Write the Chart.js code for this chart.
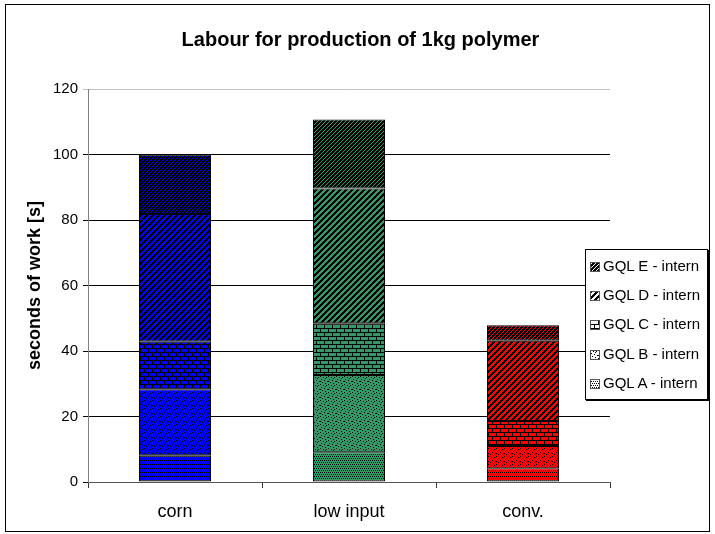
<!DOCTYPE html>
<html>
<head>
<meta charset="utf-8">
<script src="https://cdn.jsdelivr.net/npm/chart.js@4.4.1/dist/chart.umd.min.js"></script>
<style>
  html, body { margin: 0; padding: 0; background: #fff; }
  #wrap { position: relative; width: 715px; height: 534px; }
  #frame { position: absolute; left: 5px; top: 4px; width: 703px; height: 526px; border: 1px solid #000; pointer-events: none; }
  #legend {
    position: absolute; left: 585px; top: 249px; width: 121px; height: 149px;
    border: 1px solid #000; box-shadow: 1px 1px 0 #000; background: #fff;
    font-family: "Liberation Sans", Arial, sans-serif; font-size: 15px; color: #000;
  }
  #legend .item { position: absolute; left: 4px; height: 17px; line-height: 17px; white-space: nowrap; }
  #legend canvas { vertical-align: -1px; margin-right: 3px; }
</style>
</head>
<body>
<div id="wrap">
  <canvas id="chart" width="715" height="534"></canvas>
  <div id="frame"></div>
  <div id="legend"></div>
</div>
<script>
(function () {
  'use strict';

  // ---- data ----
  const categories = ['corn', 'low input', 'conv.'];
  const barColors  = ['#0000ff', '#339966', '#ff0000'];
  const seriesNames = ['GQL A - intern', 'GQL B - intern', 'GQL C - intern', 'GQL D - intern', 'GQL E - intern'];
  const gqlA = [8.2, 9.1, 4.2];
  const gqlB = [20.1, 23.6, 6.8];
  const gqlC = [14.5, 15.8, 7.6];
  const gqlD = [39.0, 41.1, 24.5];
  const gqlE = [18.2, 21.1, 4.8];
  const yTicks = [0, 20, 40, 60, 80, 100, 120];

  const FONT = '"Liberation Sans", Arial, sans-serif';

  // hatch tiles, 'X' = black pixel
  const TILES = {
    A: ['X.X.', '....', '.X.X', '....'],
    B: ['X.......', '...X..X.', '.....X..', '.X......', '....X...', 'X......X', '..X.....', '.....X..'],
    C: ['XXXXXXXX', 'X.......', 'X.......', 'X.......', 'XXXXXXXX', '....X...', '....X...', '....X...'],
    D: ['XXX...', 'XX...X', 'X...XX', '...XXX', '..XXX.', '.XXX..'],
    E: ['XX.X', 'X.XX', '.XXX', 'XXX.'],
  };
  const tileKeys = ['A', 'B', 'C', 'D', 'E'];

  function makeTile(key, bg) {
    const rows = TILES[key];
    const n = rows.length;
    const c = document.createElement('canvas');
    c.width = n; c.height = n;
    const g = c.getContext('2d');
    g.fillStyle = bg; g.fillRect(0, 0, n, n);
    g.fillStyle = '#000';
    rows.forEach((row, y) => {
      for (let x = 0; x < n; x++) if (row[x] === 'X') g.fillRect(x, y, 1, 1);
    });
    return c;
  }

  const ctx = document.getElementById('chart').getContext('2d');
  const patterns = (key) => barColors.map(col => ctx.createPattern(makeTile(key, col), 'repeat'));

  const seriesValues = [gqlA, gqlB, gqlC, gqlD, gqlE];
  const datasets = seriesValues.map((vals, i) => ({
    label: seriesNames[i],
    data: vals,
    backgroundColor: patterns(tileKeys[i]),
    borderColor: '#000',
    borderWidth: 1,
    borderSkipped: false,
    categoryPercentage: 1,
    barPercentage: 0.414,
  }));

  new Chart(ctx, {
    type: 'bar',
    data: { labels: categories, datasets },
    options: {
      responsive: false,
      animation: false,
      events: [],
      layout: { padding: { left: 6, right: 0, top: 5, bottom: 5 } },
      plugins: {
        legend: { display: false },
        tooltip: { enabled: false },
        title: {
          display: true,
          text: 'Labour for production of 1kg polymer',
          color: '#000',
          font: { family: FONT, size: 20, weight: 'bold' },
          padding: { top: 23, bottom: 37 },
        },
      },
      scales: {
        x: {
          stacked: true,
          grid: { display: true, drawOnChartArea: false, drawTicks: true, tickLength: 6, color: '#333', offset: true },
          border: { color: '#555' },
          ticks: { color: '#000', padding: 13, font: { family: FONT, size: 18 } },
          afterFit: (s) => { s.height = 47; },
        },
        y: {
          stacked: true,
          min: 0, max: 120,
          afterBuildTicks: (s) => { s.ticks = yTicks.map(v => ({ value: v })); },
          grid: {
            color: (c) => (c.tick && c.tick.value === 120 ? '#c0c0c0' : '#000'),
            tickLength: 5,
          },
          border: { color: '#808080' },
          ticks: { color: '#000', padding: 5, font: { family: FONT, size: 15 } },
          title: {
            display: true,
            text: 'seconds of work [s]',
            color: '#000',
            font: { family: FONT, size: 18, weight: 'bold' },
            padding: { top: 18, bottom: 0 },
          },
          afterFit: (s) => { s.width = 82; },
        },
        yRight: {
          position: 'right',
          display: true,
          grid: { drawOnChartArea: false, drawTicks: false },
          border: { display: false },
          ticks: { display: false },
          afterFit: (s) => { s.width = 105; },
        },
      },
    },
  });

  // legend (E on top, A at bottom), black/white swatches like the original
  const legend = document.getElementById('legend');
  const itemTops = [7, 36, 65, 95, 124];
  [4, 3, 2, 1, 0].forEach((si, row) => {
    const div = document.createElement('div');
    div.className = 'item';
    div.style.top = itemTops[row] + 'px';
    const sw = document.createElement('canvas');
    sw.width = 10; sw.height = 10;
    const g = sw.getContext('2d');
    g.fillStyle = g.createPattern(makeTile(tileKeys[si], '#fff'), 'repeat');
    g.fillRect(0, 0, 10, 10);
    g.strokeStyle = '#555'; g.lineWidth = 1; g.strokeRect(0.5, 0.5, 9, 9);
    div.appendChild(sw);
    div.appendChild(document.createTextNode(seriesNames[si]));
    legend.appendChild(div);
  });
})();
</script>
</body>
</html>
